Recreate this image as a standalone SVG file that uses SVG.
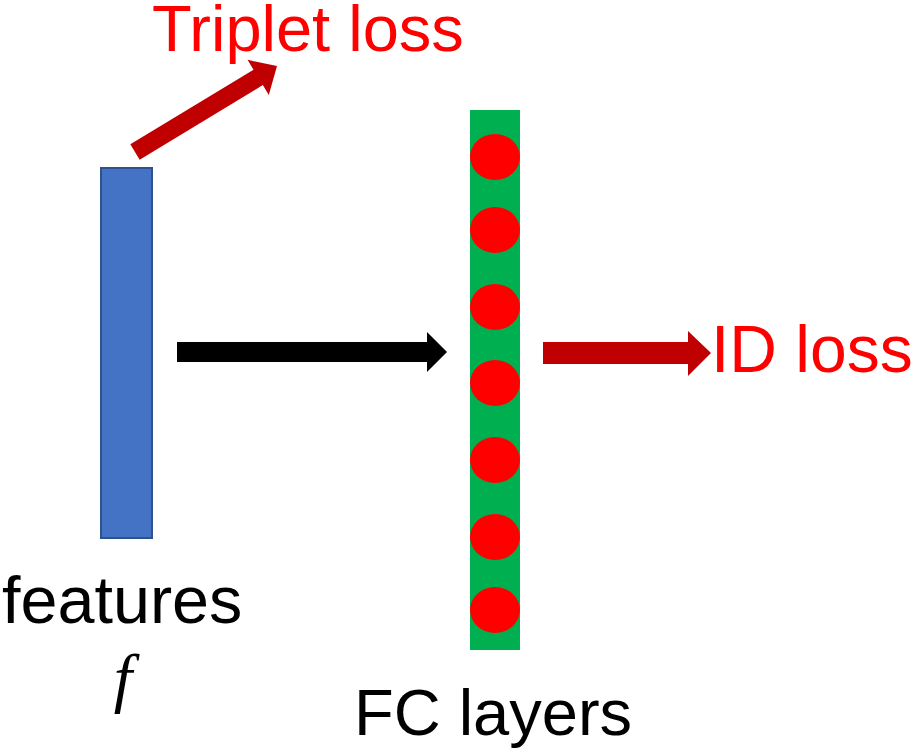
<svg xmlns="http://www.w3.org/2000/svg" width="914" height="754" viewBox="0 0 914 754">
<style>
.lbl{font-family:"Liberation Sans",Arial,sans-serif;font-size:65px}
.red{fill:#FF0000}
.blk{fill:#000000}
.dot{fill:#FF0000}
</style>
<rect width="914" height="754" fill="#FFFFFF"/>
<g id="features">
<rect x="101" y="168" width="51" height="370" fill="#4472C4" stroke="#2F528F" stroke-width="2"/>
<text class="lbl blk" x="2" y="623" style="font-size:66.5px">features</text>
<text x="123" y="700" text-anchor="middle" font-family="'Liberation Serif','Times New Roman',serif" font-style="italic" font-size="66" fill="#000">f</text>
</g>
<g id="fc-layers">
<rect x="470" y="110" width="50" height="540" fill="#00B050"/>
<ellipse class="dot" cx="495" cy="157" rx="25" ry="23"/>
<ellipse class="dot" cx="495" cy="230" rx="25" ry="23"/>
<ellipse class="dot" cx="495" cy="307" rx="25" ry="23"/>
<ellipse class="dot" cx="495" cy="383" rx="25" ry="23"/>
<ellipse class="dot" cx="495" cy="460" rx="25" ry="23"/>
<ellipse class="dot" cx="495" cy="537" rx="25" ry="23"/>
<ellipse class="dot" cx="495" cy="610" rx="25" ry="23"/>
<text class="lbl blk" x="493" y="735" text-anchor="middle">FC layers</text>
</g>
<g id="triplet-loss">
<text class="lbl red" x="152" y="51">Triplet loss</text>
</g>
<g id="id-loss">
<text class="lbl red" x="711" y="372" style="font-size:66px">ID loss</text>
</g>
<g id="connectors">
<polygon points="0,-9 144,-9 144,-20.5 166,0 144,20.5 144,9 0,9" fill="#C00000" transform="translate(135,152) rotate(-31.2)"/>
<polygon points="177,342 427,342 427,332 447,352 427,372 427,362 177,362" fill="#000000"/>
<polygon points="543,342 688,342 688,331 711,353 688,376 688,364 543,364" fill="#C00000"/>
</g>
</svg>
